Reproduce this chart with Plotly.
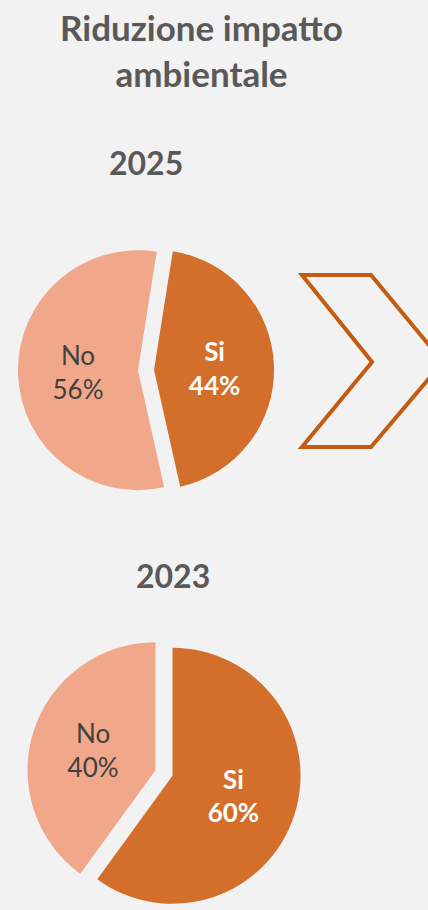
import plotly.graph_objects as go

W, H = 428, 910

# data
labels = ["Si", "No"]
values_2025 = [44, 56]
values_2023 = [60, 40]
years = ["2025", "2023"]
title_text = "Riduzione impatto<br>ambientale"

SI_COLOR = "#D36E2B"
NO_COLOR = "#F1A88A"
BG = "#F2F2F2"
GREY = "#595959"


def px_domain(cx, cy, half):
    # pixel centre + half box size -> paper domain
    return dict(x=[(cx - half) / W, (cx + half) / W],
                y=[1 - (cy + half) / H, 1 - (cy - half) / H])


def make_pie(values, cx, cy, r, pull, rotation):
    return go.Pie(
        labels=labels, values=values, sort=False, direction="clockwise",
        rotation=rotation, pull=[pull, pull],
        domain=px_domain(cx, cy, r * (1 + pull)),
        marker=dict(colors=[SI_COLOR, NO_COLOR], line=dict(width=0)),
        texttemplate=["<b>%{label}</b><br><b>%{value}%</b>", "%{label}<br>%{value}%"],
        textposition="inside", insidetextorientation="horizontal",
        textfont=dict(family="Lato", size=26, color=["white", "#404040"]),
        hoverinfo="label+percent", showlegend=False,
    )


fig = go.Figure()
fig.add_trace(make_pie(values_2025, 146, 370, 120, 0.067, 9))
fig.add_trace(make_pie(values_2023, 164, 773, 128, 0.07, 0))

fig.add_annotation(x=201 / W, y=1 - 4 / H, xref="paper", yref="paper",
                   text="<b>" + title_text + "</b>", showarrow=False,
                   yanchor="top", xanchor="center",
                   font=dict(family="Lato", size=35, color=GREY))
fig.add_annotation(x=146 / W, y=1 - 141 / H, xref="paper", yref="paper",
                   text="<b>" + years[0] + "</b>", showarrow=False,
                   font=dict(family="Lato", size=32, color=GREY))
fig.add_annotation(x=173 / W, y=1 - 575 / H, xref="paper", yref="paper",
                   text="<b>" + years[1] + "</b>", showarrow=False,
                   font=dict(family="Lato", size=32, color=GREY))

# chevron arrow outline
pts = [(302, 275), (371, 275), (443, 362), (371, 447), (302, 447), (372, 362)]
path = "M " + " L ".join(f"{x / W:.4f},{1 - y / H:.4f}" for x, y in pts) + " Z"
fig.add_shape(type="path", path=path, xref="paper", yref="paper",
              line=dict(color="#C55A11", width=4), fillcolor="rgba(0,0,0,0)")

fig.update_layout(width=W, height=H, margin=dict(l=0, r=0, t=0, b=0),
                  paper_bgcolor=BG, plot_bgcolor=BG,
                  font=dict(family="Lato"))

# drop the default page margin so the figure sits flush in the window
fig.write_html("out.html", config={"displayModeBar": False},
               post_script="document.body.style.margin='0';"
                           "document.body.style.background='#F2F2F2';")
